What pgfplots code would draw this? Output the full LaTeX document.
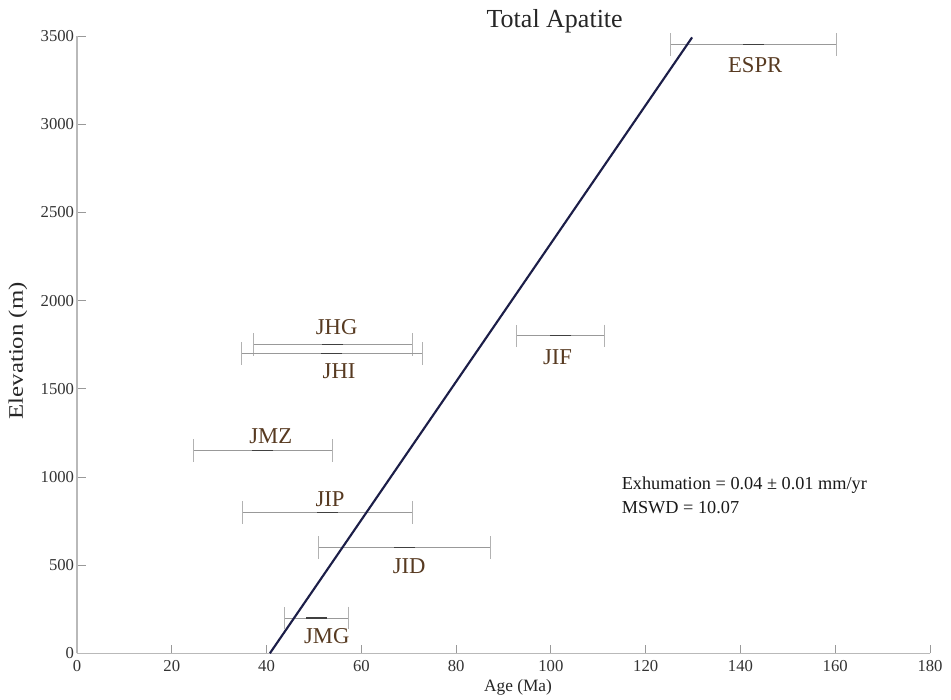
\documentclass[border=0pt]{standalone}
\usepackage{pgfplots}
\pgfplotsset{compat=1.18}
\usepackage{fontspec}
\setmainfont{Liberation Serif}
\definecolor{lbl}{RGB}{87,58,33}
\definecolor{fitc}{RGB}{28,30,72}
\definecolor{axc}{RGB}{185,185,185}
\begin{document}
\begin{tikzpicture}
\begin{axis}[
  scale only axis, width=639.75pt, height=463pt,
  xmin=0, xmax=180, ymin=0, ymax=3500,
  axis lines*=left,
  axis line style={axc, line width=1.1pt},
  tick align=inside, major tick length=6.5pt,
  tick style={color=black!40, line width=0.6pt},
  xtick={0,20,...,180}, ytick={0,500,...,3500},
  /pgf/number format/assume math mode=true,
  /pgf/number format/1000 sep={},
  xticklabel={\pgfmathprintnumber[assume math mode=true,1000 sep={}]{\tick}},
  yticklabel={\pgfmathprintnumber[assume math mode=true,1000 sep={}]{\tick}},
  tick label style={font=\fontsize{12.5}{14}\selectfont, text=black!80},
  xticklabel style={yshift=-2pt},
  yticklabel style={inner sep=2pt},
  clip=false,
]
\coordinate (O) at (axis cs:0,0);
\coordinate (T) at (axis cs:180,3500);
\addplot[only marks, mark=-, mark size=7.9pt,
  mark options={draw=black!75, line width=0.9pt},
  error bars/.cd, x dir=both, x explicit,
  error bar style={draw=black!40, line width=0.7pt},
  error mark options={rotate=90, draw=black!30, mark size=8.5pt, line width=0.7pt}]
  table[x=x, y=y, x error minus=em, x error plus=ep] {
x     y     em    ep
142.8 3450  17.5  17.5
54.0  1750  16.7  16.7
53.8  1700  19.1  19.1
39.2  1150  14.7  14.7
102.1 1800  9.3   9.3
52.8  800   17.9  17.9
69.15 600   18.15 18.15
50.5  200   6.8   6.8
};
\addplot[fitc, line width=1.6pt] coordinates {(40.7,0) (129.8,3492)};
\begin{scope}[every node/.style={anchor=base, text=lbl, font=\fontsize{17}{20}\selectfont}]
\node at (axis cs:143.1,3292) {ESPR};
\node at (axis cs:54.8,1805) {JHG};
\node at (axis cs:55.3,1559) {JHI};
\node at (axis cs:40.9,1187) {JMZ};
\node at (axis cs:101.4,1640) {JIF};
\node at (axis cs:53.4,831) {JIP};
\node at (axis cs:70.1,454) {JID};
\node at (axis cs:52.7,57) {JMG};
\end{scope}
\node[anchor=base west, inner sep=0pt, text=black!90, font=\fontsize{13.7}{16}\selectfont] at (axis cs:114.9,926) {Exhumation = 0.04 ± 0.01 mm/yr};
\node[anchor=base west, inner sep=0pt, text=black!90, font=\fontsize{13.7}{16}\selectfont] at (axis cs:114.9,795.5) {MSWD = 10.07};
\node[anchor=base, inner sep=0pt, text=black!85, font=\fontsize{19.5}{22}\selectfont, yshift=6pt] at (axis description cs:0.560,1) {Total Apatite};
\node[anchor=base, inner sep=0pt, text=black!85, font=\fontsize{13}{15}\selectfont, yshift=-28.3pt] at (axis description cs:0.517,0) {Age (Ma)};
\node[anchor=center, inner sep=0pt, rotate=90, xscale=1.2, text=black!85, font=\fontsize{15.5}{18}\selectfont] at (axis description cs:-0.0692,0.49) {Elevation (m)};
\end{axis}
\pgfresetboundingbox
\useasboundingbox ([shift={(-57.75pt,-35pt)}]O) rectangle ([shift={(15.75pt,27pt)}]T);
\end{tikzpicture}
\end{document}
